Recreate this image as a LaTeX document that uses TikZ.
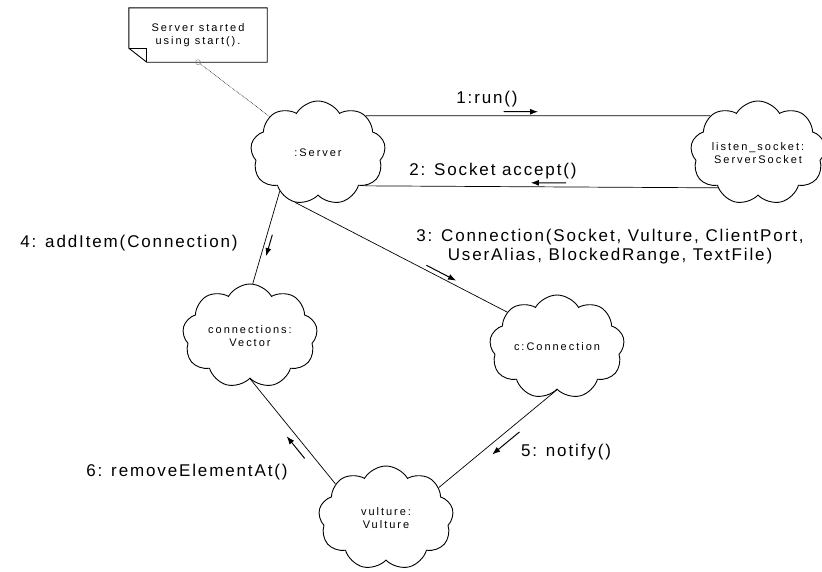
\documentclass[tikz,border=0pt]{standalone}
\usepackage{fontspec}
\setmainfont{Liberation Sans}
\newfontfamily\msgfont[LetterSpace=11]{Liberation Sans}
\newfontfamily\objfont[LetterSpace=18]{Liberation Sans}
\usetikzlibrary{shapes.symbols,arrows.meta}
\tikzset{
  obj/.style={cloud, draw, cloud puffs=9, cloud puff arc=120, cloud ignores aspect,
    minimum width=135pt, minimum height=104pt, inner sep=0pt, align=center,
    line width=0.9pt, font=\objfont\fontsize{11}{12.5}\selectfont},
  link/.style={line width=0.7pt},
  msg/.style={-{Latex[length=8pt,width=6pt]}, line width=1pt},
  lbl/.style={font=\msgfont\fontsize{17}{19}\selectfont, align=center, inner sep=0pt},
  notebox/.style={minimum width=138pt, minimum height=54pt, align=center,
    inner sep=0pt, font=\objfont\fontsize{11}{13}\selectfont}
}

\begin{document}
\begin{tikzpicture}[x=1pt,y=-1pt]
  \useasboundingbox (0,0) rectangle (822,571);

  % objects
  \node[obj] (srv) at (318,153) {:Server};
  \node[obj] (lsock) at (758,153) {listen\_socket:\\ServerSocket};
  \node[obj] (conns) at (250,336) {connections:\\Vector};
  \node[obj] (conn) at (557,347) {c:Connection};
  \node[obj] (vult) at (386,518) {vulture:\\Vulture};

  % note
  \node[notebox] (note) at (198,35) {Server started\\using start().};
  \draw[line width=0.9pt] (note.north west) -- (note.north east) -- (note.south east)
    -- ([xshift=18pt]note.south west) -- ([yshift=14pt]note.south west) -- cycle;
  \draw[line width=0.9pt] ([yshift=14pt]note.south west) -- ([xshift=18pt,yshift=14pt]note.south west)
    -- ([xshift=18pt]note.south west);
  \node[circle, draw=gray, inner sep=0pt, minimum size=5pt] (pin) at (note.south) {};
  \draw[densely dotted, line width=0.6pt] (pin) -- (srv.143);

  % links
  \draw[link] (srv.38) -- coordinate[pos=.40] (m1a) coordinate[pos=.50] (m1b) (lsock.142);
  \draw[link] (lsock.-139) -- coordinate[pos=.43] (m2a) coordinate[pos=.53] (m2b) (srv.-35);
  \draw[link] (srv.-115) -- coordinate[pos=.61] (m3a) coordinate[pos=.75] (m3b) (conn.145);
  \draw[link] (srv.-135) -- coordinate[pos=.46] (m4a) coordinate[pos=.69] (m4b) (conns.87);
  \draw[link] (conn.-90) -- coordinate[pos=.36] (m5a) coordinate[pos=.59] (m5b) (vult.30);
  \draw[link] (vult.146) -- coordinate[pos=.29] (m6a) coordinate[pos=.50] (m6b) (conns.-90);

  % messages
  \draw[msg] ([yshift=4pt]m1a) -- ([yshift=4pt]m1b);
  \draw[msg] ([yshift=4pt]m2a) -- ([yshift=4pt]m2b);
  \draw[msg] ([xshift=2pt,yshift=4pt]m3a) -- ([xshift=2pt,yshift=4pt]m3b);
  \draw[msg] ([xshift=5pt,yshift=-1pt]m4a) -- ([xshift=5pt,yshift=-1pt]m4b);
  \draw[msg] ([xshift=5pt,yshift=-7pt]m5a) -- ([xshift=5pt,yshift=-7pt]m5b);
  \draw[msg] ([xshift=-6pt,yshift=-5pt]m6a) -- ([xshift=-6pt,yshift=-5pt]m6b);

  \node[lbl] (t1) at (487,99) {1:run()};
  \node[lbl] (t2) at (493,171) {2: Socket accept()};
  \node[lbl] (t3) at (610,247) {3: Connection(Socket, Vulture, ClientPort,\\UserAlias, BlockedRange, TextFile)};
  \node[lbl] (t4) at (129,243) {4: addItem(Connection)};
  \node[lbl] (t5) at (566,452) {5: notify()};
  \node[lbl] (t6) at (187,472) {6: removeElementAt()};
\end{tikzpicture}
\end{document}
